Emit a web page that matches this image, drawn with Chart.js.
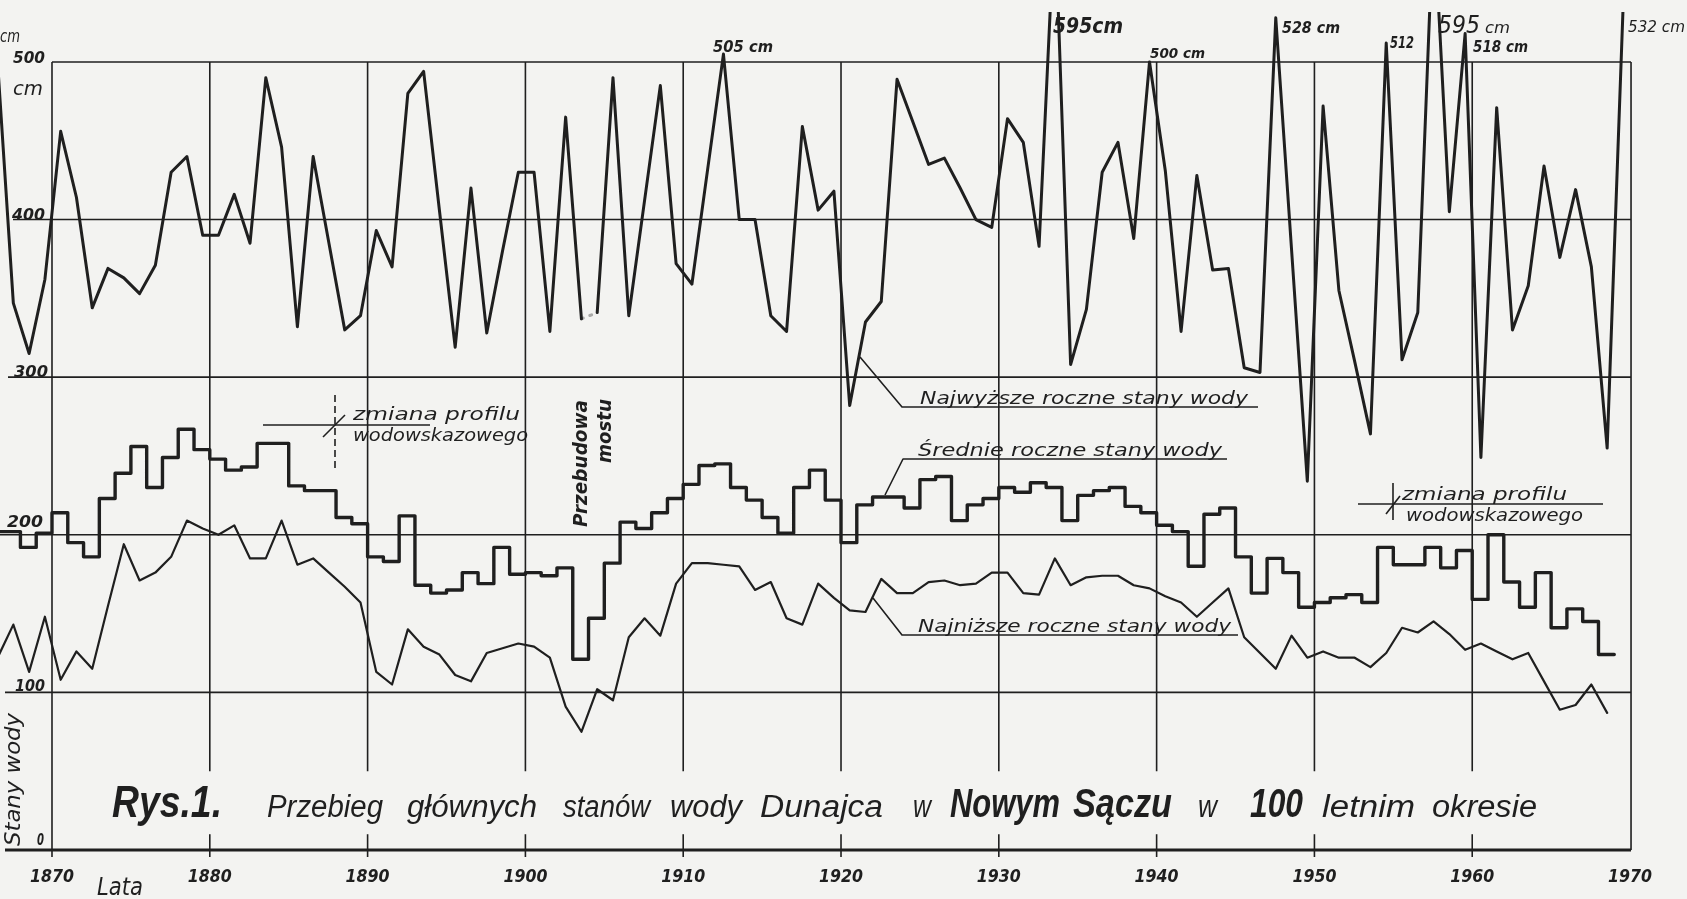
<!DOCTYPE html>
<html>
<head>
<meta charset="utf-8">
<title>Rys. 1 - stany wody Dunajca</title>
<script src="https://cdn.jsdelivr.net/npm/chart.js@4.4.0/dist/chart.umd.min.js"></script>
<style>
  html, body { margin: 0; padding: 0; background: #f3f3f1; }
  #wrap { width: 1687px; height: 899px; }
</style>
</head>
<body>
<div id="wrap"><canvas id="levelsChart" width="1687" height="899"></canvas></div>
<script>
// lata (1866 wchodzi tylko na lewy brzeg rysunku)
const years = [
  1866, 1867, 1868, 1869, 1870, 1871, 1872, 1873, 1874, 1875,
  1876, 1877, 1878, 1879, 1880, 1881, 1882, 1883, 1884, 1885,
  1886, 1887, 1888, 1889, 1890, 1891, 1892, 1893, 1894, 1895,
  1896, 1897, 1898, 1899, 1900, 1901, 1902, 1903, 1904, 1905,
  1906, 1907, 1908, 1909, 1910, 1911, 1912, 1913, 1914, 1915,
  1916, 1917, 1918, 1919, 1920, 1921, 1922, 1923, 1924, 1925,
  1926, 1927, 1928, 1929, 1930, 1931, 1932, 1933, 1934, 1935,
  1936, 1937, 1938, 1939, 1940, 1941, 1942, 1943, 1944, 1945,
  1946, 1947, 1948, 1949, 1950, 1951, 1952, 1953, 1954, 1955,
  1956, 1957, 1958, 1959, 1960, 1961, 1962, 1963, 1964, 1965,
  1966, 1967, 1968, 1969
];

// Najwyższe roczne stany wody [cm] (1866-1969)
const highest = [
  500, 347, 315, 362, 456, 414, 344, 369, 363, 353,
  371, 430, 440, 390, 390, 416, 385, 490, 446, 332,
  440, 385, 330, 339, 393, 370, 480, 494, 406, 319,
  420, 328, 380, 430, 430, 329, 465, 337, 341, 490,
  339, 412, 485, 372, 359, 432, 505, 400, 400, 339,
  329, 459, 406, 418, 282, 335, 348, 489, 462, 435,
  439, 420, 400, 395, 464, 449, 383, 595, 308, 343,
  430, 449, 388, 500, 431, 329, 428, 368, 369, 306,
  303, 528, 381, 234, 472, 355, 310, 264, 512, 311,
  341, 595, 405, 518, 249, 471, 330, 358, 434, 376,
  419, 370, 255, 532
];

// Średnie roczne stany wody [cm] (1866-1968)
const mean = [
  202, 202, 192, 201, 214, 195, 186, 223, 239, 256,
  230, 249, 267, 254, 248, 241, 243, 258, 258, 231,
  228, 228, 211, 207, 186, 183, 212, 168, 163, 165,
  176, 169, 192, 175, 176, 174, 179, 121, 147, 182,
  208, 204, 214, 223, 232, 244, 245, 230, 222, 211,
  201, 230, 241, 222, 195, 219, 224, 224, 217, 235,
  237, 209, 219, 223, 230, 227, 233, 230, 209, 225,
  228, 230, 218, 214, 206, 202, 180, 213, 217, 186,
  163, 185, 176, 154, 157, 160, 162, 157, 192, 181,
  181, 192, 179, 190, 159, 200, 170, 154, 176, 141,
  153, 145, 124
];

// Najniższe roczne stany wody [cm] (1866-1968)
const lowest = [
  122, 143, 113, 148, 108, 126, 115, 155, 194, 171,
  176, 186, 209, 204, 200, 206, 185, 185, 209, 181,
  185, 176, 167, 157, 113, 105, 140, 129, 124, 111,
  107, 125, 128, 131, 129, 122, 91, 75, 102, 95,
  135, 147, 136, 169, 182, 182, 181, 180, 165, 170,
  147, 143, 169, 160, 152, 151, 172, 163, 163, 170,
  171, 168, 169, 176, 176, 163, 162, 185, 168, 173,
  174, 174, 168, 166, 161, 157, 148, 157, 166, 135,
  125, 115, 136, 122, 126, 122, 122, 116, 125, 141,
  138, 145, 137, 127, 131, 126, 121, 125, 107, 89,
  92, 105, 87
];

const yTicks = [0, 100, 200, 300, 400, 500];
const xTicks = [1870, 1880, 1890, 1900, 1910, 1920, 1930, 1940, 1950, 1960, 1970];
const highBreakYear = 1903;   // przerwa w linii (przebudowa mostu)

const seriesNames = ['Najwyższe roczne stany wody', 'Średnie roczne stany wody', 'Najniższe roczne stany wody'];
const peakTexts = ['505 cm', '595cm', '500 cm', '528 cm', '512', '595', '518 cm', '532 cm'];

const ink = '#1f1f1f';
const paperColor = '#f3f3f1';
const hand = '"DejaVu Sans"';
const titleFace = '"Liberation Sans"';

// punkty rocznych maksimów / minimów leżą w połowie roku
const midYear = (vals) => vals.map((v, i) => ({ x: years[i] + 0.55, y: v }));
const stepYear = (vals) => {
  const pts = vals.map((v, i) => ({ x: years[i], y: v }));
  pts.push({ x: years[vals.length - 1] + 1, y: vals[vals.length - 1] });
  return pts;
};

function fitText(ctx, text, x, y, width, font) {
  ctx.save();
  ctx.font = font;
  const w = ctx.measureText(text).width;
  ctx.translate(x, y);
  ctx.scale(width / w, 1);
  ctx.textAlign = 'left';
  ctx.textBaseline = 'alphabetic';
  ctx.fillText(text, 0, 0);
  ctx.restore();
}

function line(ctx, pts) {
  ctx.beginPath();
  ctx.moveTo(pts[0][0], pts[0][1]);
  for (let i = 1; i < pts.length; i++) ctx.lineTo(pts[i][0], pts[i][1]);
  ctx.stroke();
}

const paperPlugin = {
  id: 'paper',
  beforeDraw(chart) {
    const ctx = chart.ctx;
    const X = v => chart.scales.x.getPixelForValue(v);
    const Y = v => chart.scales.y.getPixelForValue(v);
    ctx.save();
    ctx.fillStyle = paperColor;
    ctx.fillRect(0, 0, chart.width, chart.height);

    ctx.strokeStyle = ink;
    ctx.lineCap = 'butt';
    ctx.lineWidth = 1.6;
    const hStart = { 500: X(1870), 400: 13, 300: 8, 200: 0, 100: 5 };
    yTicks.forEach(v => {
      if (v === 0) return;
      line(ctx, [[hStart[v], Y(v)], [X(1970) + 1, Y(v)]]);
    });
    ctx.lineWidth = 3;
    line(ctx, [[5, Y(0)], [X(1970) + 1, Y(0)]]);

    ctx.lineWidth = 1.6;
    xTicks.forEach(t => {
      if (t === 1870) {
        line(ctx, [[X(t), Y(500)], [X(t), Y(0) + 7]]);
      } else if (t === 1970) {
        line(ctx, [[X(t) + 1, Y(500)], [X(t) + 1, Y(0)]]);
      } else {
        line(ctx, [[X(t), Y(500)], [X(t), Y(50)]]);
        line(ctx, [[X(t), Y(10)], [X(t), Y(0) + 7]]);
      }
    });
    ctx.restore();
  },
  afterDatasetsDraw(chart) {
    const ctx = chart.ctx;
    const X = v => chart.scales.x.getPixelForValue(v);
    ctx.save();
    ctx.fillStyle = ink;
    ctx.strokeStyle = ink;

    // opisy osi Y
    const yLab = {
      500: [13, 32, 63], 400: [12, 33, 220], 300: [14, 34, 377],
      200: [7, 36, 527], 100: [15, 30, 691], 0: [37, 7, 845]
    };
    yTicks.forEach(v => {
      const [lx, w, by] = yLab[v];
      fitText(ctx, String(v), lx, by, w, 'bold italic 16px ' + hand);
    });
    fitText(ctx, 'cm', 0, 42, 20, 'italic 18px ' + hand);
    fitText(ctx, 'cm', 13, 95, 30, 'italic 20px ' + hand);

    // opisy osi X
    xTicks.forEach(t => {
      fitText(ctx, String(t), X(t) - 22, 882, 44, 'bold italic 17px ' + hand);
    });
    fitText(ctx, 'Lata', 97, 895, 46, 'italic 25px ' + hand);

    ctx.save();
    ctx.translate(20, 846);
    ctx.rotate(-Math.PI / 2);
    fitText(ctx, 'Stany wody', 0, 0, 133, 'italic 21px ' + hand);
    ctx.restore();

    // wartości szczytowe poza skalą
    const peakPos = [
      [713, 52, 60, 'bold italic 15px'], [1053, 33, 70, 'bold italic 21px'],
      [1150, 58, 55, 'bold italic 14px'], [1282, 33, 58, 'bold italic 15px'],
      [1390, 48, 24, 'bold italic 15px'], [1438, 33, 42, 'italic 25px'],
      [1473, 52, 55, 'bold italic 16px'], [1628, 32, 57, 'italic 15px']
    ];
    peakTexts.forEach((txt, i) => {
      const [lx, by, w, f] = peakPos[i];
      fitText(ctx, txt, lx, by, w, f + ' ' + hand);
    });
    fitText(ctx, 'cm', 1485, 33, 25, 'italic 16px ' + hand);

    // podpisy serii z odnośnikami
    ctx.lineWidth = 1.6;
    ctx.lineJoin = 'round';
    line(ctx, [[860, 357], [902, 407], [1258, 407]]);
    line(ctx, [[885, 495], [903, 459], [1227, 459]]);
    line(ctx, [[873, 598], [902, 635], [1238, 635]]);
    const lblFont = 'italic 18px ' + hand;
    fitText(ctx, seriesNames[0], 920, 404, 328, lblFont);
    fitText(ctx, seriesNames[1], 918, 456, 304, lblFont);
    fitText(ctx, seriesNames[2], 918, 632, 313, lblFont);

    // zmiana profilu wodowskazowego
    line(ctx, [[263, 425], [430, 425]]);
    line(ctx, [[323, 437], [345, 415]]);
    ctx.setLineDash([7, 4]);
    line(ctx, [[335, 395], [335, 470]]);
    ctx.setLineDash([]);
    fitText(ctx, 'zmiana profilu', 353, 420, 167, 'italic 17px ' + hand);
    fitText(ctx, 'wodowskazowego', 353, 441, 175, 'italic 17px ' + hand);

    line(ctx, [[1358, 504], [1603, 504]]);
    line(ctx, [[1393, 483], [1393, 520]]);
    line(ctx, [[1386, 514], [1400, 496]]);
    fitText(ctx, 'zmiana profilu', 1402, 500, 165, 'italic 17px ' + hand);
    fitText(ctx, 'wodowskazowego', 1406, 521, 177, 'italic 17px ' + hand);

    // przebudowa mostu
    ctx.save();
    ctx.translate(587, 527);
    ctx.rotate(-Math.PI / 2);
    fitText(ctx, 'Przebudowa', 0, 0, 127, 'bold italic 19px ' + hand);
    ctx.restore();
    ctx.save();
    ctx.translate(611, 463);
    ctx.rotate(-Math.PI / 2);
    fitText(ctx, 'mostu', 0, 0, 64, 'bold italic 19px ' + hand);
    ctx.restore();

    // tytuł
    const tReg = 'italic 31px ' + titleFace;
    const tBold = 'bold italic 40px ' + titleFace;
    const title = [
      ['Rys.1.', 112, 110, 'bold italic 44px ' + titleFace],
      ['Przebieg', 267, 116, tReg], ['głównych', 407, 130, tReg],
      ['stanów', 563, 87, tReg], ['wody', 670, 72, tReg],
      ['Dunajca', 760, 123, tReg], ['w', 913, 18, tReg],
      ['Nowym', 950, 110, tBold], ['Sączu', 1073, 99, tBold],
      ['w', 1198, 19, tReg], ['100', 1250, 53, tBold],
      ['letnim', 1322, 93, tReg], ['okresie', 1432, 105, tReg]
    ];
    title.forEach(([txt, lx, w, f]) => fitText(ctx, txt, lx, 817, w, f));

    ctx.restore();
  }
};

const ctxEl = document.getElementById('levelsChart');
const breakIdx = years.indexOf(highBreakYear);

new Chart(ctxEl, {
  type: 'line',
  data: {
    datasets: [
      {
        label: seriesNames[0],
        data: midYear(highest),
        borderColor: ink,
        borderWidth: 3,
        segment: {
          borderDash: c => (c.p0DataIndex === breakIdx ? [2, 7] : undefined),
          borderColor: c => (c.p0DataIndex === breakIdx ? 'rgba(31,31,31,0.35)' : undefined)
        }
      },
      {
        label: seriesNames[1],
        data: stepYear(mean),
        borderColor: ink,
        borderWidth: 3.4,
        stepped: true
      },
      {
        label: seriesNames[2],
        data: midYear(lowest),
        borderColor: ink,
        borderWidth: 2.2
      }
    ]
  },
  options: {
    responsive: false,
    animation: false,
    devicePixelRatio: 1,
    layout: { padding: { top: 12, left: 0, right: 0, bottom: 0 } },
    plugins: {
      legend: { display: false },
      tooltip: { enabled: false },
      title: { display: false }
    },
    elements: {
      point: { radius: 0, hoverRadius: 0 },
      line: { tension: 0, borderJoinStyle: 'round', borderCapStyle: 'round', fill: false }
    },
    scales: {
      x: { type: 'linear', min: 1866.705, max: 1973.61, display: false },
      y: { type: 'linear', min: -31.1, max: 531.7, display: false }
    }
  },
  plugins: [paperPlugin]
});
</script>
</body>
</html>
